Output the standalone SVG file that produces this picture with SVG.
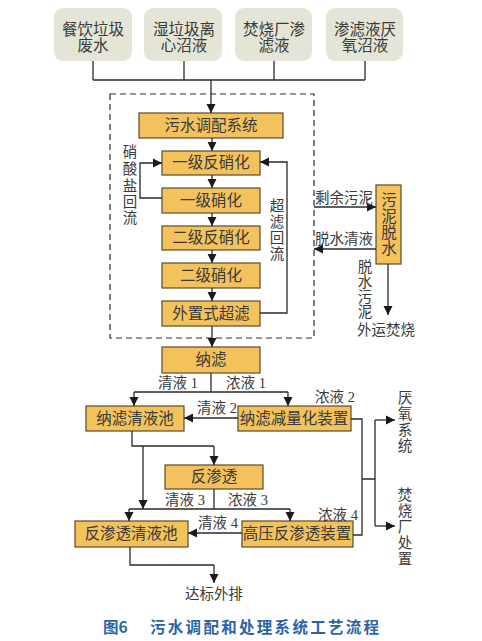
<svg xmlns="http://www.w3.org/2000/svg" width="482" height="641" viewBox="0 0 482 641">
<defs>
<marker id="arr" markerUnits="userSpaceOnUse" markerWidth="10" markerHeight="10" refX="9" refY="5" orient="auto">
<path d="M0,0.5 L9,5 L0,9.5 Z" fill="#1a1a1a"/>
</marker>
<style>
.src{fill:#e4e5d6;stroke:none}
.box{fill:#f3c25c;stroke:#5c4a2c;stroke-width:1.2}
.t{font-family:"Liberation Serif","Noto Sans CJK SC",serif;font-size:15.5px;fill:#3a3a3a;text-anchor:middle}
.l{font-family:"Liberation Serif","Noto Sans CJK SC",serif;font-size:14.5px;fill:#3a3a3a;text-anchor:middle}
.ln{fill:none;stroke:#2a2a2a;stroke-width:1.3}
.ar{fill:none;stroke:#2a2a2a;stroke-width:1.3;marker-end:url(#arr)}
.dash{fill:none;stroke:#2a2a2a;stroke-width:1.2;stroke-dasharray:6,4}
.cap{font-family:"Noto Sans CJK SC",sans-serif;font-size:15.5px;font-weight:bold;fill:#2a64a8}
</style>
</defs>
<rect width="482" height="641" fill="#ffffff"/>

<rect class="dash" x="110" y="94" width="204" height="244"/>

<g id="src1"><rect class="src" x="54" y="8" width="78" height="53" rx="9"/><text class="t" x="93" y="35">餐饮垃圾</text><text class="t" x="93" y="51">废水</text></g>
<g id="src2"><rect class="src" x="144" y="8" width="78" height="53" rx="9"/><text class="t" x="184" y="35">湿垃圾离</text><text class="t" x="184" y="51">心沼液</text></g>
<g id="src3"><rect class="src" x="235" y="8" width="77" height="53" rx="9"/><text class="t" x="274" y="35">焚烧厂渗</text><text class="t" x="274" y="51">滤液</text></g>
<g id="src4"><rect class="src" x="326" y="8" width="77" height="53" rx="9"/><text class="t" x="365" y="35">渗滤液厌</text><text class="t" x="365" y="51">氧沼液</text></g>

<g id="tiaopei"><rect class="box" x="139" y="113" width="144" height="25"/><text class="t" x="211" y="131">污水调配系统</text></g>
<g id="fx1"><rect class="box" x="162" y="151" width="98" height="24"/><text class="t" x="211" y="168">一级反硝化</text></g>
<g id="xh1"><rect class="box" x="162" y="188" width="98" height="25"/><text class="t" x="211" y="206">一级硝化</text></g>
<g id="fx2"><rect class="box" x="162" y="226" width="98" height="24"/><text class="t" x="211" y="243">二级反硝化</text></g>
<g id="xh2"><rect class="box" x="162" y="263" width="98" height="25"/><text class="t" x="211" y="281">二级硝化</text></g>
<g id="uf"><rect class="box" x="162" y="301" width="98" height="25"/><text class="t" x="211" y="319">外置式超滤</text></g>
<g id="sludge"><rect class="box" x="376" y="185" width="25" height="79"/>
<text class="t" x="389" y="206">污</text><text class="t" x="389" y="222">泥</text><text class="t" x="389" y="238">脱</text><text class="t" x="389" y="254">水</text></g>
<g id="nf"><rect class="box" x="162" y="347" width="98" height="26"/><text class="t" x="211" y="365">纳滤</text></g>
<g id="nfpool"><rect class="box" x="86" y="406" width="98" height="25"/><text class="t" x="135" y="424">纳滤清液池</text></g>
<g id="nfred"><rect class="box" x="238" y="406" width="113" height="25"/><text class="t" x="294" y="424">纳滤减量化装置</text></g>
<g id="ro"><rect class="box" x="165" y="465" width="98" height="24"/><text class="t" x="214" y="482">反渗透</text></g>
<g id="ropool"><rect class="box" x="75" y="521" width="113" height="26"/><text class="t" x="131" y="539">反渗透清液池</text></g>
<g id="hpro"><rect class="box" x="242" y="521" width="111" height="26"/><text class="t" x="297" y="539">高压反渗透装置</text></g>

<g id="connectors">
<path class="ln" d="M93,61 V80 M184,61 V80 M274,61 V80 M365,61 V80 M93,80 H365"/>
<path class="ar" d="M211,80 V113"/>
<path class="ar" d="M212,138 V151"/>
<path class="ar" d="M212,175 V188"/>
<path class="ar" d="M212,213 V226"/>
<path class="ar" d="M212,250 V263"/>
<path class="ar" d="M212,288 V301"/>
<path class="ar" d="M212,326 V347"/>
<path class="ar" d="M162,198 H140 V163 H162"/>
<path class="ar" d="M260,313 H287 V162 H260"/>
<path class="ar" d="M314,207 H376"/>
<path class="ar" d="M376,249 H314"/>
<path class="ar" d="M388,264 V315"/>
<path class="ln" d="M211,373 V392 M134,392 H288"/>
<path class="ar" d="M134,392 V406"/>
<path class="ar" d="M288,392 V406"/>
<path class="ar" d="M238,418 H184"/>
<path class="ln" d="M351,419 H362 V535 H353 M362,479 H375 M375,420 V526"/>
<path class="ar" d="M375,420 H395"/>
<path class="ar" d="M375,526 H395"/>
<path class="ln" d="M132,431 V446 H214"/>
<path class="ar" d="M214,446 V465"/>
<path class="ar" d="M143,446 V509"/>
<path class="ln" d="M214,489 V509 M129,509 H290"/>
<path class="ar" d="M129,509 V521"/>
<path class="ar" d="M290,509 V521"/>
<path class="ar" d="M242,533 H188"/>
<path class="ln" d="M130,547 V565 H214"/>
<path class="ar" d="M214,565 V583"/>
</g>

<g id="labels">
<text class="l" x="130" y="157">硝</text><text class="l" x="130" y="174">酸</text><text class="l" x="130" y="191">盐</text><text class="l" x="130" y="207">回</text><text class="l" x="130" y="223">流</text>
<text class="l" x="277" y="211">超</text><text class="l" x="277" y="227">滤</text><text class="l" x="277" y="243">回</text><text class="l" x="277" y="259">流</text>
<text class="l" x="344" y="203">剩余污泥</text>
<text class="l" x="344" y="244">脱水清液</text>
<text class="l" x="365" y="272">脱</text><text class="l" x="365" y="287">水</text><text class="l" x="365" y="302">污</text><text class="l" x="365" y="317">泥</text>
<text class="l" x="386" y="335">外运焚烧</text>
<text class="l" x="178" y="388">清液 1</text>
<text class="l" x="246" y="388">浓液 1</text>
<text class="l" x="217" y="413">清液 2</text>
<text class="l" x="335" y="402">浓液 2</text>
<text class="l" x="185" y="505">清液 3</text>
<text class="l" x="248" y="505">浓液 3</text>
<text class="l" x="218" y="528">清液 4</text>
<text class="l" x="338" y="520">浓液 4</text>
<text class="l" x="405" y="403">厌</text><text class="l" x="405" y="419">氧</text><text class="l" x="405" y="435">系</text><text class="l" x="405" y="451">统</text>
<text class="l" x="405" y="500">焚</text><text class="l" x="405" y="516">烧</text><text class="l" x="405" y="532">厂</text><text class="l" x="405" y="548">处</text><text class="l" x="405" y="564">置</text>
<text class="l" x="214" y="599">达标外排</text>
</g>

<g id="caption">
<text class="cap" x="103" y="633">图6</text>
<text class="cap" x="150" y="633" letter-spacing="2.3">污水调配和处理系统工艺流程</text>
</g>
</svg>
